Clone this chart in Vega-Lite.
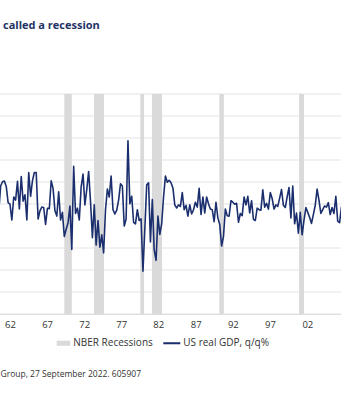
{
  "$schema": "https://vega.github.io/schema/vega-lite/v6.json",
  "width": 341,
  "height": 220,
  "autosize": "none",
  "padding": {"left": 0, "top": 94, "right": 0, "bottom": 86},
  "background": "white",
  "title": {"text": "called a recession", "anchor": "start", "frame": "group", "orient": "top", "offset": 54, "baseline": "alphabetic", "dx": 3, "font": "Open Sans", "fontSize": 11, "fontWeight": "bold", "color": "#1f3366"},
  "config": {"view": {"stroke": null}, "font": "Open Sans"},
  "datasets": {
    "grid": [
      {"g": -4}, {"g": -3}, {"g": -2}, {"g": -1}, {"g": 1}, {"g": 2}, {"g": 3}, {"g": 4}, {"g": 5}, {"g": 6}
    ],
    "rec": [
      {"start": 1969.75, "end": 1970.75},
      {"start": 1973.72, "end": 1975.05},
      {"start": 1979.9, "end": 1980.4},
      {"start": 1981.45, "end": 1982.8},
      {"start": 1990.45, "end": 1991.05},
      {"start": 2001.1, "end": 2001.75}
    ],
    "gdp": [
      {"t": 1961.00, "v": 0.67}, {"t": 1961.25, "v": 1.82}, {"t": 1961.50, "v": 2.01}, {"t": 1961.75, "v": 2.04},
      {"t": 1962.00, "v": 1.80}, {"t": 1962.25, "v": 1.06}, {"t": 1962.50, "v": 0.99}, {"t": 1962.75, "v": 0.27},
      {"t": 1963.00, "v": 1.32}, {"t": 1963.25, "v": 1.18}, {"t": 1963.50, "v": 2.03}, {"t": 1963.75, "v": 0.77},
      {"t": 1964.00, "v": 2.25}, {"t": 1964.25, "v": 1.13}, {"t": 1964.50, "v": 1.42}, {"t": 1964.75, "v": 0.27},
      {"t": 1965.00, "v": 2.43}, {"t": 1965.25, "v": 1.35}, {"t": 1965.50, "v": 2.06}, {"t": 1965.75, "v": 2.43},
      {"t": 1966.00, "v": 2.43}, {"t": 1966.25, "v": 0.32}, {"t": 1966.50, "v": 0.69}, {"t": 1966.75, "v": 0.86},
      {"t": 1967.00, "v": 0.84}, {"t": 1967.25, "v": 0.07}, {"t": 1967.50, "v": 0.81}, {"t": 1967.75, "v": 0.79},
      {"t": 1968.00, "v": 2.06}, {"t": 1968.25, "v": 1.71}, {"t": 1968.50, "v": 0.69}, {"t": 1968.75, "v": 0.45},
      {"t": 1969.00, "v": 1.56}, {"t": 1969.25, "v": 0.27}, {"t": 1969.50, "v": 0.62}, {"t": 1969.75, "v": -0.48},
      {"t": 1970.00, "v": -0.15}, {"t": 1970.25, "v": 0.15}, {"t": 1970.50, "v": 0.91}, {"t": 1970.75, "v": -1.07},
      {"t": 1971.00, "v": 2.71}, {"t": 1971.25, "v": 0.57}, {"t": 1971.50, "v": 0.81}, {"t": 1971.75, "v": 0.27},
      {"t": 1972.00, "v": 1.78}, {"t": 1972.25, "v": 2.36}, {"t": 1972.50, "v": 0.96}, {"t": 1972.75, "v": 1.66},
      {"t": 1973.00, "v": 2.48}, {"t": 1973.25, "v": 1.11}, {"t": 1973.50, "v": -0.53}, {"t": 1973.75, "v": 0.96},
      {"t": 1974.00, "v": -0.86}, {"t": 1974.25, "v": 0.25}, {"t": 1974.50, "v": -0.96}, {"t": 1974.75, "v": -0.40},
      {"t": 1975.00, "v": -1.22}, {"t": 1975.25, "v": 0.74}, {"t": 1975.50, "v": 1.68}, {"t": 1975.75, "v": 1.32},
      {"t": 1976.00, "v": 2.27}, {"t": 1976.25, "v": 0.74}, {"t": 1976.50, "v": 0.55}, {"t": 1976.75, "v": 0.72},
      {"t": 1977.00, "v": 1.18}, {"t": 1977.25, "v": 1.92}, {"t": 1977.50, "v": 1.82}, {"t": 1977.75, "v": 0.00},
      {"t": 1978.00, "v": 0.32}, {"t": 1978.25, "v": 3.87}, {"t": 1978.50, "v": 1.01}, {"t": 1978.75, "v": 1.35},
      {"t": 1979.00, "v": 0.17}, {"t": 1979.25, "v": 0.10}, {"t": 1979.50, "v": 0.74}, {"t": 1979.75, "v": 0.25},
      {"t": 1980.00, "v": 0.32}, {"t": 1980.25, "v": -2.06}, {"t": 1980.50, "v": -0.13}, {"t": 1980.75, "v": 1.87},
      {"t": 1981.00, "v": 1.96}, {"t": 1981.25, "v": -0.73}, {"t": 1981.50, "v": 1.20}, {"t": 1981.75, "v": -1.09},
      {"t": 1982.00, "v": -1.56}, {"t": 1982.25, "v": 0.45}, {"t": 1982.50, "v": -0.38}, {"t": 1982.75, "v": 0.10},
      {"t": 1983.00, "v": 1.32}, {"t": 1983.25, "v": 2.27}, {"t": 1983.50, "v": 1.99}, {"t": 1983.75, "v": 2.08},
      {"t": 1984.00, "v": 1.97}, {"t": 1984.25, "v": 1.73}, {"t": 1984.50, "v": 0.96}, {"t": 1984.75, "v": 0.82},
      {"t": 1985.00, "v": 0.96}, {"t": 1985.25, "v": 0.89}, {"t": 1985.50, "v": 1.52}, {"t": 1985.75, "v": 0.74},
      {"t": 1986.00, "v": 0.94}, {"t": 1986.25, "v": 0.45}, {"t": 1986.50, "v": 0.96}, {"t": 1986.75, "v": 0.55},
      {"t": 1987.00, "v": 0.74}, {"t": 1987.25, "v": 1.08}, {"t": 1987.50, "v": 0.86}, {"t": 1987.75, "v": 1.71},
      {"t": 1988.00, "v": 0.52}, {"t": 1988.25, "v": 1.32}, {"t": 1988.50, "v": 0.59}, {"t": 1988.75, "v": 1.32},
      {"t": 1989.00, "v": 1.01}, {"t": 1989.25, "v": 0.77}, {"t": 1989.50, "v": 0.74}, {"t": 1989.75, "v": 0.20},
      {"t": 1990.00, "v": 1.08}, {"t": 1990.25, "v": 0.37}, {"t": 1990.50, "v": 0.07}, {"t": 1990.75, "v": -0.91},
      {"t": 1991.00, "v": -0.48}, {"t": 1991.25, "v": 0.77}, {"t": 1991.50, "v": 0.47}, {"t": 1991.75, "v": 0.45},
      {"t": 1992.00, "v": 1.15}, {"t": 1992.25, "v": 1.08}, {"t": 1992.50, "v": 0.99}, {"t": 1992.75, "v": 1.03},
      {"t": 1993.00, "v": 0.17}, {"t": 1993.25, "v": 0.57}, {"t": 1993.50, "v": 0.47}, {"t": 1993.75, "v": 1.32},
      {"t": 1994.00, "v": 0.96}, {"t": 1994.25, "v": 1.35}, {"t": 1994.50, "v": 0.59}, {"t": 1994.75, "v": 1.15},
      {"t": 1995.00, "v": 0.30}, {"t": 1995.25, "v": 0.25}, {"t": 1995.50, "v": 0.81}, {"t": 1995.75, "v": 0.74},
      {"t": 1996.00, "v": 0.72}, {"t": 1996.25, "v": 1.64}, {"t": 1996.50, "v": 0.86}, {"t": 1996.75, "v": 1.03},
      {"t": 1997.00, "v": 0.77}, {"t": 1997.25, "v": 1.52}, {"t": 1997.50, "v": 1.25}, {"t": 1997.75, "v": 0.77},
      {"t": 1998.00, "v": 0.96}, {"t": 1998.25, "v": 0.89}, {"t": 1998.50, "v": 1.27}, {"t": 1998.75, "v": 1.66},
      {"t": 1999.00, "v": 0.94}, {"t": 1999.25, "v": 0.84}, {"t": 1999.50, "v": 1.32}, {"t": 1999.75, "v": 1.75},
      {"t": 2000.00, "v": 0.37}, {"t": 2000.25, "v": 1.82}, {"t": 2000.50, "v": 0.10}, {"t": 2000.75, "v": 0.59},
      {"t": 2001.00, "v": -0.33}, {"t": 2001.25, "v": 0.62}, {"t": 2001.50, "v": -0.40}, {"t": 2001.75, "v": 0.27},
      {"t": 2002.00, "v": 0.84}, {"t": 2002.25, "v": 0.62}, {"t": 2002.50, "v": 0.40}, {"t": 2002.75, "v": 0.12},
      {"t": 2003.00, "v": 0.52}, {"t": 2003.25, "v": 0.94}, {"t": 2003.50, "v": 1.68}, {"t": 2003.75, "v": 1.18},
      {"t": 2004.00, "v": 0.57}, {"t": 2004.25, "v": 0.74}, {"t": 2004.50, "v": 0.91}, {"t": 2004.75, "v": 0.86},
      {"t": 2005.00, "v": 1.06}, {"t": 2005.25, "v": 0.52}, {"t": 2005.50, "v": 0.84}, {"t": 2005.75, "v": 0.57},
      {"t": 2006.00, "v": 1.35}, {"t": 2006.25, "v": 0.22}, {"t": 2006.50, "v": 0.15}, {"t": 2006.75, "v": 0.86},
      {"t": 2007.00, "v": 0.22}
    ]
  },
  "layer": [
    {
      "data": {"name": "grid"},
      "mark": {"type": "rule", "color": "#e3e3e3", "strokeWidth": 1},
      "encoding": {
        "y": {
          "field": "g", "type": "quantitative",
          "scale": {"domain": [-4, 6], "nice": false, "zero": false},
          "axis": null
        }
      }
    },
    {
      "data": {"name": "rec"},
      "mark": {"type": "rect", "clip": true},
      "encoding": {
        "x": {
          "field": "start", "type": "quantitative",
          "scale": {"domain": [1961.165, 2006.69], "nice": false, "zero": false},
          "axis": {
            "values": [1962.5, 1967.45, 1972.4, 1977.35, 1982.3, 1987.3, 1992.25, 1997.2, 2002.2, 2007.15],
            "labelExpr": "(floor(datum.value) % 100) < 10 ? '0' + (floor(datum.value) % 100) : '' + (floor(datum.value) % 100)",
            "grid": false, "ticks": false, "domain": true, "domainColor": "#d9d9d9", "domainWidth": 1,
            "labelFont": "Open Sans", "labelFontSize": 9.5, "labelColor": "#333333", "labelPadding": 5,
            "labelFlush": false, "labelOverlap": false, "labelBound": false,
            "title": "Group, 27 September 2022. 605907",
            "titleAnchor": "start", "titleAlign": "left", "titleBaseline": "top", "titlePadding": 41,
            "titleFont": "Open Sans", "titleFontSize": 8.5, "titleFontWeight": "normal", "titleColor": "#333333"
          }
        },
        "x2": {"field": "end"},
        "color": {
          "datum": "NBER Recessions", "type": "nominal",
          "scale": {"domain": ["NBER Recessions", "US real GDP, q/q%"], "range": ["#dadada", "#1b2f6e"]},
          "legend": {
            "title": null, "orient": "none", "direction": "horizontal", "columns": 2,
            "legendX": 53.3, "legendY": 240.5, "padding": 0,
            "symbolSize": 289, "columnPadding": 10, "labelOffset": 3,
            "labelFont": "Open Sans", "labelFontSize": 10, "labelColor": "#333333",
            "symbolStrokeWidth": 0,
            "encode": {
              "symbols": {
                "update": {
                  "shape": {"signal": "datum.value === 'NBER Recessions' ? 'M-0.6,-0.3H1V0.3H-0.6Z' : 'M-1,-0.12H1V0.12H-1Z'"},
                  "fill": {"signal": "datum.value === 'NBER Recessions' ? '#dadada' : '#1b2f6e'"},
                  "stroke": {"value": "transparent"},
                  "opacity": {"value": 1},
                  "fillOpacity": {"value": 1}
                }
              }
            }
          }
        }
      }
    },
    {
      "mark": {"type": "rule", "color": "#6e6e6e", "strokeWidth": 1},
      "encoding": {"y": {"datum": 0, "type": "quantitative"}}
    },
    {
      "data": {"name": "gdp"},
      "mark": {"type": "line", "clip": true, "strokeWidth": 1.6, "strokeJoin": "round"},
      "encoding": {
        "x": {"field": "t", "type": "quantitative"},
        "y": {"field": "v", "type": "quantitative"},
        "color": {"datum": "US real GDP, q/q%", "type": "nominal"}
      }
    }
  ]
}
